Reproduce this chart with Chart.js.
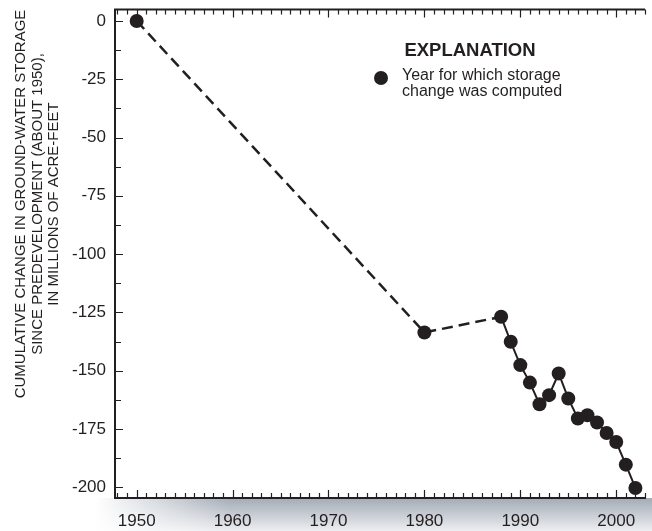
<!DOCTYPE html>
<html>
<head>
<meta charset="utf-8">
<script src="https://cdn.jsdelivr.net/npm/chart.js@4.4.1/dist/chart.umd.min.js"></script>
<style>
  html, body { margin: 0; padding: 0; background: #fff; }
  #wrap { width: 652px; height: 531px; position: relative; }
</style>
</head>
<body>
<div id="wrap"><canvas id="storageChart" width="652" height="531"></canvas></div>
<script>
// data
const years = [1950, 1980, 1988, 1989, 1990, 1991, 1992, 1993, 1994, 1995, 1996, 1997, 1998, 1999, 2000, 2001, 2002];
const storageChange = [0, -133.6, -126.9, -137.6, -147.6, -155.1, -164.4, -160.5, -151.2, -161.9, -170.5, -169.1, -172.2, -176.7, -180.6, -190.3, -200.3];
const xTickLabels = [1950, 1960, 1970, 1980, 1990, 2000];
const yTickLabels = [0, -25, -50, -75, -100, -125, -150, -175, -200];
const yTitleLines = ['CUMULATIVE CHANGE IN GROUND-WATER STORAGE', 'SINCE PREDEVELOPMENT (ABOUT 1950),', 'IN MILLIONS OF ACRE-FEET'];
const legendTitle = 'EXPLANATION';
const legendLines = ['Year for which storage', 'change was computed'];

const ink = '#231f20';
const fontFamily = '"Liberation Sans", Arial, Helvetica, sans-serif';

// background shading, inside tick marks, top border, axis title and explanation box
const decorations = {
    id: 'decorations',
    beforeDraw(chart) {
        const ctx = chart.ctx;
        const area = chart.chartArea;
        ctx.save();
        // grey band under the x axis
        const g = ctx.createLinearGradient(0, area.bottom, 0, chart.height);
        g.addColorStop(0, '#a3abb6');
        g.addColorStop(1, '#eceef1');
        ctx.fillStyle = g;
        ctx.fillRect(95, area.bottom, chart.width - 95, chart.height - area.bottom);
        const h = ctx.createLinearGradient(95, 0, 230, 0);
        h.addColorStop(0, 'rgba(255,255,255,1)');
        h.addColorStop(1, 'rgba(255,255,255,0)');
        ctx.fillStyle = h;
        ctx.fillRect(95, area.bottom, 135, chart.height - area.bottom);
        ctx.restore();
    },
    afterDatasetsDraw(chart) {
        const ctx = chart.ctx;
        const area = chart.chartArea;
        const xs = chart.scales.x;
        const ys = chart.scales.y;
        ctx.save();
        ctx.strokeStyle = ink;
        ctx.lineWidth = 1.2;
        ctx.beginPath();
        for (let yr = Math.ceil(xs.min); yr <= xs.max; yr++) {
            const px = Math.round(xs.getPixelForValue(yr)) + 0.5;
            const len = yr % 10 === 0 ? 8 : 5;
            ctx.moveTo(px, area.bottom);
            ctx.lineTo(px, area.bottom - len);
            ctx.moveTo(px, area.top);
            ctx.lineTo(px, area.top + len);
        }
        for (let v = 0; v >= -200; v -= 12.5) {
            const py = Math.round(ys.getPixelForValue(v)) + 0.5;
            const len = v % 25 === 0 ? 8 : 6;
            ctx.moveTo(area.left, py);
            ctx.lineTo(area.left + len, py);
        }
        ctx.stroke();
        // top frame line
        ctx.lineWidth = 2;
        ctx.beginPath();
        ctx.moveTo(area.left - 1, area.top);
        ctx.lineTo(area.right, area.top);
        ctx.stroke();

        // y axis title, three rotated lines
        ctx.fillStyle = ink;
        ctx.font = '15px ' + fontFamily;
        ctx.textAlign = 'center';
        ctx.textBaseline = 'middle';
        const colX = [21, 38, 54];
        yTitleLines.forEach((line, i) => {
            ctx.save();
            ctx.translate(colX[i], 204);
            ctx.rotate(-Math.PI / 2);
            ctx.fillText(line, 0, 0);
            ctx.restore();
        });

        // explanation
        ctx.font = 'bold 18.5px ' + fontFamily;
        ctx.textAlign = 'center';
        ctx.fillText(legendTitle, 470, 51);
        ctx.beginPath();
        ctx.arc(381, 78, 7, 0, Math.PI * 2);
        ctx.fill();
        ctx.font = '16px ' + fontFamily;
        ctx.textAlign = 'left';
        ctx.fillText(legendLines[0], 402, 76);
        ctx.fillText(legendLines[1], 402, 92);
        ctx.restore();
    }
};

const storageCtx = document.getElementById('storageChart').getContext('2d');
let storageChart = new Chart(storageCtx, {
    type: 'scatter',
    data: {
        datasets: [{
            label: 'Cumulative change in storage',
            data: years.map((yr, i) => ({ x: yr, y: storageChange[i] })),
            showLine: true,
            borderColor: ink,
            borderWidth: 2,
            backgroundColor: ink,
            pointRadius: 7,
            pointBorderWidth: 0,
            pointBackgroundColor: ink,
            segment: {
                borderDash: ctx => ctx.p0DataIndex < 2 ? [11, 6] : undefined,
                borderWidth: ctx => ctx.p0DataIndex < 2 ? 2.5 : 2
            }
        }]
    },
    options: {
        responsive: false,
        animation: false,
        layout: { padding: { left: 0, top: 9.5, right: 0, bottom: 0 } },
        plugins: {
            legend: { display: false },
            tooltip: { enabled: false }
        },
        scales: {
            x: {
                type: 'linear',
                min: 1947.74,
                max: 2003.0,
                grid: { display: false, drawTicks: false },
                border: { display: true, color: ink, width: 2 },
                ticks: {
                    color: ink,
                    font: { family: fontFamily, size: 17 },
                    padding: 13,
                    maxRotation: 0,
                    callback: v => String(v)
                },
                afterBuildTicks: scale => { scale.ticks = xTickLabels.map(v => ({ value: v })); },
                afterFit: scale => {
                    scale.height = 33;
                    scale.paddingLeft = 0;
                    scale.paddingRight = 0;
                }
            },
            y: {
                min: -204.6,
                max: 4.9,
                grid: { display: false, drawTicks: false },
                border: { display: true, color: ink, width: 2 },
                ticks: {
                    color: ink,
                    font: { family: fontFamily, size: 17 },
                    padding: 9,
                    callback: v => String(v)
                },
                afterBuildTicks: scale => { scale.ticks = yTickLabels.map(v => ({ value: v })); },
                afterFit: scale => {
                    scale.width = 115;
                    scale.paddingTop = 0;
                    scale.paddingBottom = 0;
                }
            }
        }
    },
    plugins: [decorations]
});
</script>
</body>
</html>
